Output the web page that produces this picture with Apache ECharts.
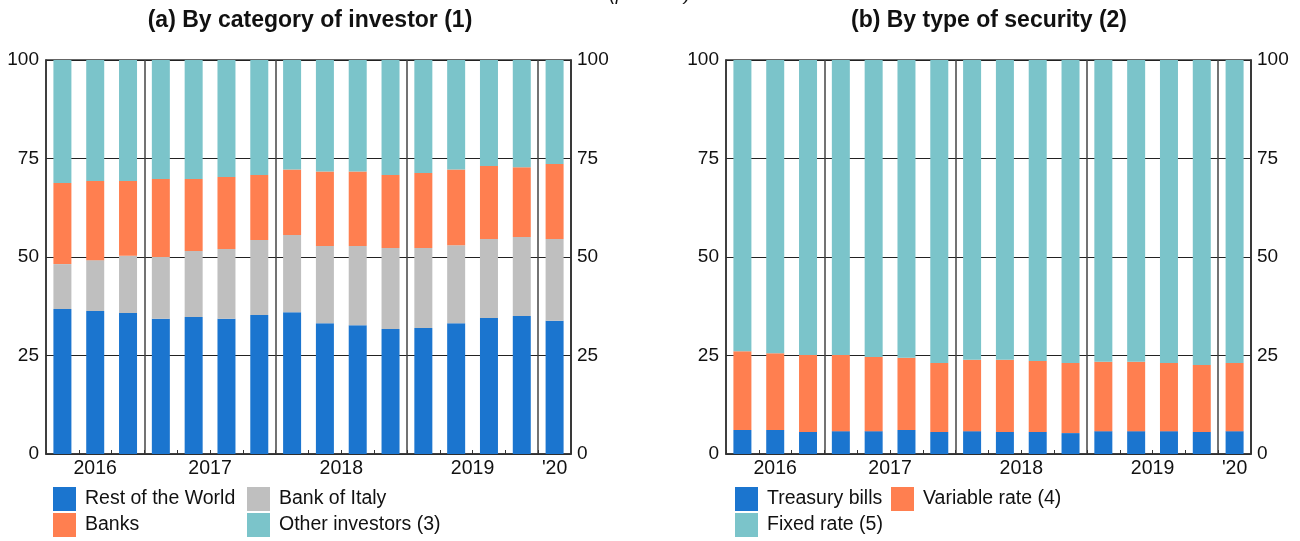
<!DOCTYPE html>
<html>
<head>
<meta charset="utf-8">
<script src="https://cdn.jsdelivr.net/npm/echarts@6/dist/echarts.min.js"></script>
<style>
  html, body { margin: 0; padding: 0; background: #fff; }
  #chart { width: 1300px; height: 541px; }
</style>
</head>
<body>
<div id="chart"></div>
<script>
// Quarterly observations, 2016 Q2 – 2020 Q1 (per cent of total)
const quarters = [
  '2016-Q2', '2016-Q3', '2016-Q4',
  '2017-Q1', '2017-Q2', '2017-Q3', '2017-Q4',
  '2018-Q1', '2018-Q2', '2018-Q3', '2018-Q4',
  '2019-Q1', '2019-Q2', '2019-Q3', '2019-Q4',
  '2020-Q1'
];
const yearLabels = { '2016': '2016', '2017': '2017', '2018': '2018', '2019': '2019', '2020': "'20" };
const yTicks = [0, 25, 50, 75, 100];

// (a) By category of investor
const restOfWorld    = [36.8, 36.3, 35.8, 34.3, 34.8, 34.3, 35.3, 36.0, 33.2, 32.7, 31.7, 32.0, 33.2, 34.5, 35.0, 33.8];
const bankOfItaly    = [11.4, 12.9, 14.5, 15.7, 16.7, 17.7, 19.0, 19.6, 19.6, 20.1, 20.6, 20.3, 19.8, 20.1, 20.1, 20.8];
const banks          = [20.6, 20.1, 19.0, 19.8, 18.3, 18.3, 16.5, 16.6, 18.9, 18.9, 18.5, 19.0, 19.2, 18.5, 17.7, 19.0];
const otherInvestors = [31.2, 30.7, 30.7, 30.2, 30.2, 29.7, 29.2, 27.8, 28.3, 28.3, 29.2, 28.7, 27.8, 26.9, 27.2, 26.4];

// (b) By type of security
const treasuryBills = [6.1, 6.1, 5.6, 5.8, 5.8, 6.1, 5.6, 5.8, 5.6, 5.6, 5.3, 5.8, 5.8, 5.8, 5.6, 5.8];
const variableRate  = [20.0, 19.5, 19.5, 19.3, 18.8, 18.3, 17.5, 18.1, 18.3, 18.0, 17.8, 17.6, 17.6, 17.3, 17.0, 17.3];
const fixedRate     = [73.9, 74.4, 74.9, 74.9, 75.4, 75.6, 76.9, 76.1, 76.1, 76.4, 76.9, 76.6, 76.6, 76.9, 77.4, 76.9];

const COLORS = { blue: '#1b75cf', orange: '#ff7f50', gray: '#bfbfbf', teal: '#7bc4ca' };
const FONT = 'Liberation Sans, Arial, sans-serif';
const INK = '#111';
const LINE = '#333';

// Year label positions: centre of each year's run of quarters (value axis spanning 0..n)
const yearOf = q => q.slice(0, 4);
const yearPos = {};
(function () {
  const groups = {};
  quarters.forEach((q, i) => { (groups[yearOf(q)] = groups[yearOf(q)] || []).push(i + 0.5); });
  Object.keys(groups).forEach(y => {
    const g = groups[y];
    yearPos[(g.reduce((a, b) => a + b, 0) / g.length).toFixed(1)] = yearLabels[y];
  });
})();
// Boundaries where a new year starts get a full-height separator
const yearStarts = quarters.map((q, i) => i > 0 && yearOf(q) !== yearOf(quarters[i - 1]));

const grids = [
  { left: 46, right: 729, top: 60, bottom: 87 },
  { left: 726, right: 49, top: 60, bottom: 87 }
];

function categoryAxis(gi) {
  return {
    type: 'category', gridIndex: gi, data: quarters, position: 'bottom',
    boundaryGap: true,
    axisLine: { lineStyle: { color: LINE, width: 1.5 } },
    axisTick: { show: true, inside: true, length: 4, interval: 0, lineStyle: { color: LINE } },
    axisLabel: { show: false },
    splitLine: {
      show: true,
      interval: (idx) => !!yearStarts[idx],
      lineStyle: { color: '#444', width: 1.5 }
    }
  };
}
function yearAxis(gi) {
  return {
    type: 'value', gridIndex: gi, position: 'bottom',
    min: 0, max: quarters.length, interval: 0.5,
    axisLine: { show: false }, axisTick: { show: false }, splitLine: { show: false },
    axisLabel: {
      show: true, margin: 5, fontSize: 19.5, fontFamily: FONT, color: INK,
      showMinLabel: true, showMaxLabel: true,
      formatter: v => yearPos[Number(v).toFixed(1)] || ''
    }
  };
}
function valueAxis(gi, pos) {
  return {
    type: 'value', gridIndex: gi, position: pos,
    min: yTicks[0], max: yTicks[yTicks.length - 1], interval: yTicks[1] - yTicks[0],
    axisLine: { show: true, lineStyle: { color: LINE, width: 1.5 } },
    axisTick: { show: false },
    axisLabel: { fontSize: 19, fontFamily: FONT, color: INK, margin: pos === 'left' ? 7 : 6 },
    splitLine: pos === 'left'
      ? { show: true, lineStyle: { color: '#222', width: 1.2 } }
      : { show: false }
  };
}
function barSeries(name, data, color, gi, stack) {
  return {
    name, type: 'bar', stack, data,
    xAxisIndex: gi * 2, yAxisIndex: gi * 2,
    barWidth: 18,
    itemStyle: { color },
    emphasis: { disabled: true },
    animation: false
  };
}
// One legend entry per component, laid out in two rows under each panel
function legendItem(name, left, row) {
  return {
    left, top: 487 + row * 26, padding: 0,
    itemWidth: 23, itemHeight: 24, icon: 'rect',
    selectedMode: false,
    textStyle: { fontSize: 19.5, fontFamily: FONT, color: INK, padding: [0, 0, 0, 4] },
    data: [name]
  };
}

const option = {
  animation: false,
  backgroundColor: '#fff',
  title: [
    { text: '(per cent)', left: 'center', top: -15, padding: 0,
      textStyle: { fontSize: 19, fontStyle: 'italic', fontWeight: 'normal', fontFamily: FONT, color: INK } },
    { text: '(a) By category of investor (1)', left: 310, textAlign: 'center', top: 9, padding: 0,
      textStyle: { fontSize: 23, fontWeight: 'bold', fontFamily: FONT, color: INK } },
    { text: '(b) By type of security (2)', left: 989, textAlign: 'center', top: 9, padding: 0,
      textStyle: { fontSize: 23, fontWeight: 'bold', fontFamily: FONT, color: INK } }
  ],
  grid: grids.map(g => Object.assign({ show: true, borderColor: LINE, borderWidth: 1.5, backgroundColor: 'transparent' }, g)),
  xAxis: [categoryAxis(0), yearAxis(0), categoryAxis(1), yearAxis(1)],
  yAxis: [valueAxis(0, 'left'), valueAxis(0, 'right'), valueAxis(1, 'left'), valueAxis(1, 'right')],
  legend: [
    legendItem('Rest of the World', 53, 0),
    legendItem('Banks', 53, 1),
    legendItem('Bank of Italy', 247, 0),
    legendItem('Other investors (3)', 247, 1),
    legendItem('Treasury bills', 735, 0),
    legendItem('Fixed rate (5)', 735, 1),
    legendItem('Variable rate (4)', 891, 0)
  ],
  series: [
    barSeries('Rest of the World', restOfWorld, COLORS.blue, 0, 'investor'),
    barSeries('Bank of Italy', bankOfItaly, COLORS.gray, 0, 'investor'),
    barSeries('Banks', banks, COLORS.orange, 0, 'investor'),
    barSeries('Other investors (3)', otherInvestors, COLORS.teal, 0, 'investor'),
    barSeries('Treasury bills', treasuryBills, COLORS.blue, 1, 'security'),
    barSeries('Variable rate (4)', variableRate, COLORS.orange, 1, 'security'),
    barSeries('Fixed rate (5)', fixedRate, COLORS.teal, 1, 'security')
  ]
};

const chart = echarts.init(document.getElementById('chart'), null, { renderer: 'canvas' });
chart.setOption(option);
</script>
</body>
</html>
